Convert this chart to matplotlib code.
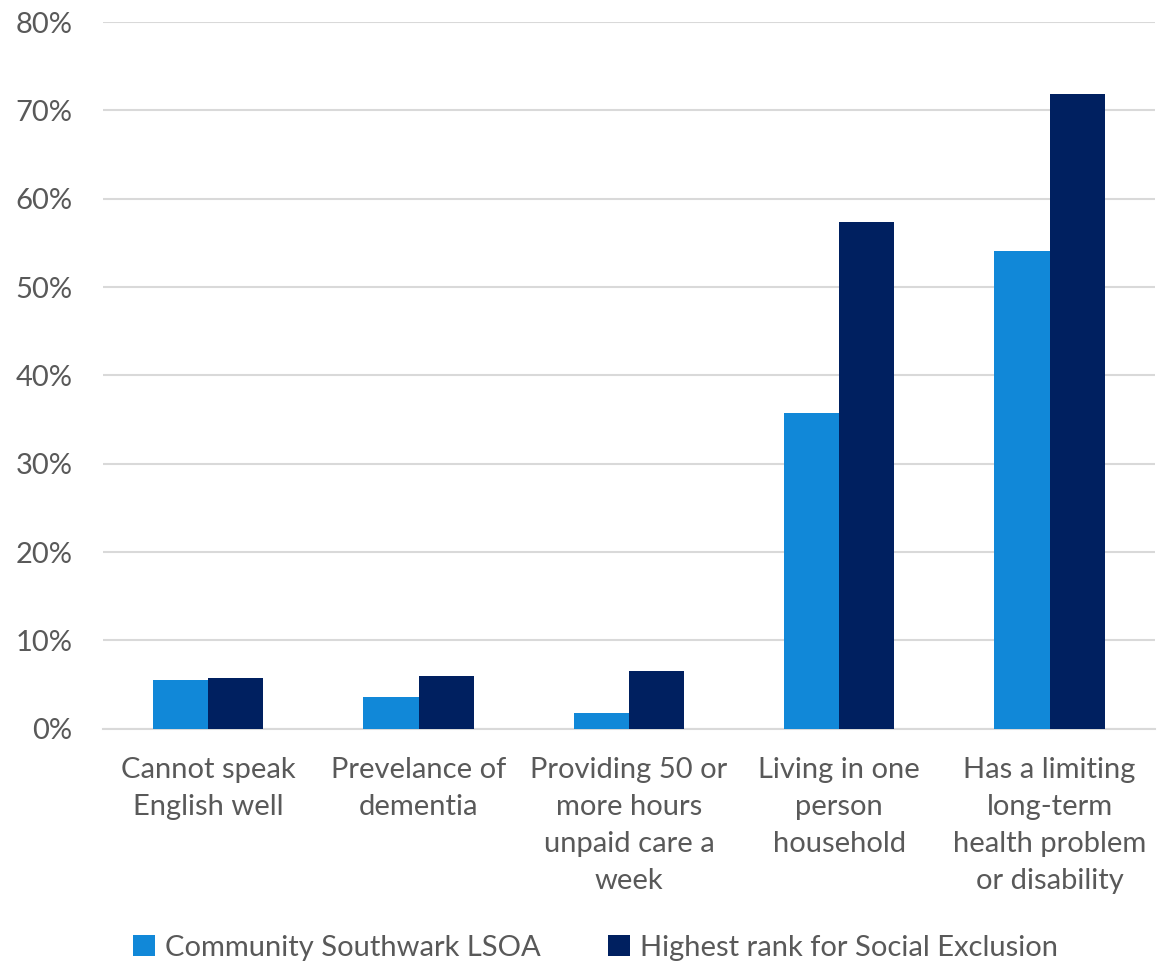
import matplotlib
matplotlib.use('Agg')
import matplotlib.pyplot as plt
import numpy as np
from matplotlib.ticker import PercentFormatter

categories = ['Cannot speak\nEnglish well', 'Prevelance of\ndementia',
              'Providing 50 or\nmore hours\nunpaid care a\nweek',
              'Living in one\nperson\nhousehold',
              'Has a limiting\nlong-term\nhealth problem\nor disability']
community = [5.5, 3.6, 1.8, 35.8, 54.1]
highest = [5.8, 6.0, 6.5, 57.4, 71.9]

plt.rcParams['font.family'] = ['Lato', 'DejaVu Sans']

fig = plt.figure(figsize=(11.7, 9.64), dpi=100)
ax = fig.add_axes([0.088, 0.244, 0.899, 0.733])

x = np.arange(len(categories))
w = 0.262
ax.bar(x - w / 2, community, w, color='#1188D8', label='Community Southwark LSOA', zorder=3)
ax.bar(x + w / 2, highest, w, color='#002060', label='Highest rank for Social Exclusion', zorder=3)

ax.set_xlim(-0.5, len(categories) - 0.5)
ax.set_ylim(0, 80)
ax.set_yticks(range(0, 81, 10))
ax.yaxis.set_major_formatter(PercentFormatter(decimals=0))
ax.grid(axis='y', color='#D9D9D9', linewidth=1.5, zorder=0)
for s in ['top', 'right', 'left']:
    ax.spines[s].set_visible(False)
ax.spines['bottom'].set_color('#D9D9D9')
ax.spines['bottom'].set_linewidth(1.5)
ax.tick_params(axis='both', length=0, labelsize=21, colors='#595959')
ax.tick_params(axis='x', pad=20)
ax.tick_params(axis='y', pad=22)
ax.set_xticks(x)
ax.set_xticklabels(categories, linespacing=1.53)

fig.legend(*ax.get_legend_handles_labels(), loc='center', bbox_to_anchor=(0.509, 0.017),
           ncol=2, frameon=False, fontsize=21, labelcolor='#595959',
           handlelength=0.75, handleheight=0.75, columnspacing=2.3,
           handletextpad=0.35, borderaxespad=0, borderpad=0)

plt.savefig('out.png', dpi=100)
